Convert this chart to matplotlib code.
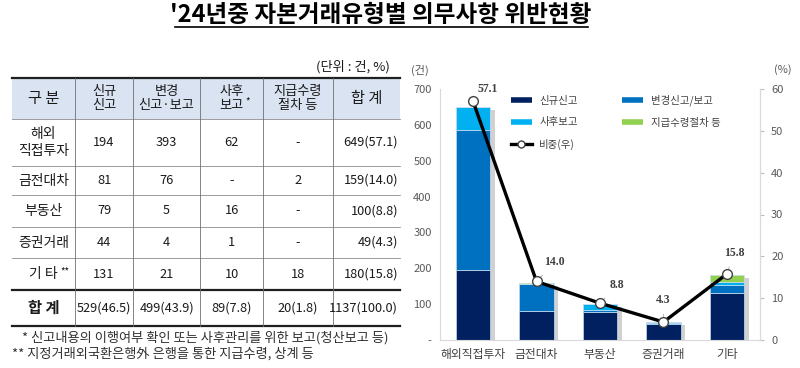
import matplotlib
matplotlib.use('Agg')
import matplotlib.pyplot as plt
import matplotlib.patheffects as pe
from matplotlib.lines import Line2D
from matplotlib.patches import Rectangle
import numpy as np

plt.rcParams['font.family'] = ['Noto Sans CJK KR', 'DejaVu Sans']

# ---------------- data ----------------
title = "'24년중 자본거래유형별 의무사항 위반현황"
categories = ['해외직접투자', '금전대차', '부동산', '증권거래', '기타']
new_report = [194, 81, 79, 44, 131]
change_report = [393, 76, 5, 4, 21]
post_report = [62, 0, 16, 1, 10]
payment = [0, 2, 0, 0, 18]
share = [57.1, 14.0, 8.8, 4.3, 15.8]

series_names = ['신규신고', '변경신고/보고', '사후보고', '지급수령절차 등']
line_name = '비중(우)'
left_ticks = [0, 100, 200, 300, 400, 500, 600, 700]
left_tick_labels = ['-', '100', '200', '300', '400', '500', '600', '700']
right_ticks = [0, 10, 20, 30, 40, 50, 60]

unit_text = '(단위 : 건, %)'
header_lines = [['구 분'], ['신규', '신고'], ['변경', '신고·보고'], ['사후', '보고'],
                ['지급수령', '절차 등'], ['합 계']]
row_labels = [['해외', '직접투자'], ['금전대차'], ['부동산'], ['증권거래'], ['기 타'], ['합 계']]
table_cells = [
    ['194', '393', '62', '-', '649(57.1)'],
    ['81', '76', '-', '2', '159(14.0)'],
    ['79', '5', '16', '-', '100(8.8)'],
    ['44', '4', '1', '-', '49(4.3)'],
    ['131', '21', '10', '18', '180(15.8)'],
    ['529(46.5)', '499(43.9)', '89(7.8)', '20(1.8)', '1137(100.0)'],
]
footnotes = ['* 신고내용의 이행여부 확인 또는 사후관리를 위한 보고(청산보고 등)',
             '** 지정거래외국환은행外 은행을 통한 지급수령, 상계 등']

colors = ['#002060', '#0070c0', '#00b0f0', '#92d050']

# ---------------- figure ----------------
W, H = 800, 368
fig = plt.figure(figsize=(W / 100, H / 100), dpi=100)
cv = fig.add_axes([0, 0, 1, 1])
cv.set_xlim(0, W)
cv.set_ylim(H, 0)
cv.axis('off')

# title
cv.text(381, 15, title, ha='center', va='center', fontsize=17, fontweight='bold', color='black')
cv.plot([175, 588], [27, 27], color='black', lw=1.2)

# ---------------- table ----------------
cols = [12, 75, 133, 200, 263, 333, 400]
rows = [78, 119, 166, 195, 227, 258, 290, 326]
txt = '#1a1a1a'
cv.add_patch(Rectangle((cols[0], rows[0]), cols[-1] - cols[0], rows[1] - rows[0],
                       facecolor='#dae3f1', edgecolor='none'))
for yy in rows:
    if yy in (rows[0], rows[6], rows[7]):
        cv.plot([cols[0], cols[-1]], [yy, yy], color='#202020', lw=1.6)
    else:
        cv.plot([cols[0], cols[-1]], [yy, yy], color='#8c8c8c', lw=0.6)
for xx in cols[1:-1]:
    cv.plot([xx, xx], [rows[0], rows[-1]], color='#707070', lw=0.6)

cv.text(390, 67, unit_text, ha='right', va='center', fontsize=9.5, color=txt)

# header
for j, lines in enumerate(header_lines):
    cx = (cols[j] + cols[j + 1]) / 2
    cy = (rows[0] + rows[1]) / 2
    if len(lines) == 1:
        cv.text(cx, cy, lines[0], ha='center', va='center', fontsize=11, color=txt)
    else:
        cv.text(cx, cy - 7.5, lines[0], ha='center', va='center', fontsize=9.5, color=txt)
        cv.text(cx, cy + 7.5, lines[1], ha='center', va='center', fontsize=9.5, color=txt)
# superscript on 사후보고
cv.text((cols[3] + cols[4]) / 2 + 14, (rows[0] + rows[1]) / 2 + 3, '*', ha='left',
        va='center', fontsize=7, color=txt)

# body
for i, lab in enumerate(row_labels):
    cy = (rows[i + 1] + rows[i + 2]) / 2
    cx = (cols[0] + cols[1]) / 2
    if len(lab) == 2:
        cv.text(cx, cy - 8.5, lab[0], ha='center', va='center', fontsize=10, color=txt)
        cv.text(cx, cy + 8.5, lab[1], ha='center', va='center', fontsize=10, color=txt)
    elif i == len(row_labels) - 1:
        cv.text(cx, cy, lab[0], ha='center', va='center', fontsize=11, fontweight='bold', color=txt)
    else:
        cv.text(cx, cy, lab[0], ha='center', va='center', fontsize=10, color=txt)
    if i == 4:
        cv.text(cx + 17, cy - 3, '**', ha='left', va='center', fontsize=7, color=txt)
    for j, val in enumerate(table_cells[i]):
        if j == 4:
            cv.text(cols[6] - 2, cy, val, ha='right', va='center', fontsize=9.2, color=txt)
        else:
            cv.text((cols[j + 1] + cols[j + 2]) / 2, cy, val, ha='center', va='center',
                    fontsize=9.2, color=txt)

# footnotes
cv.text(22, 338, footnotes[0], ha='left', va='center', fontsize=9.5, color='#303030')
cv.text(12, 354, footnotes[1], ha='left', va='center', fontsize=9.5, color='#303030')

# ---------------- chart ----------------
ax = fig.add_axes([440 / W, 1 - 340 / H, 320 / W, (340 - 89) / H])
x = np.arange(len(categories))
width = 0.55
series = [new_report, change_report, post_report, payment]
totals = np.sum(series, axis=0)

ax.bar(x, totals, width, color='#e0e0e0', zorder=1,
       path_effects=[pe.withSimplePatchShadow(offset=(3, -2), shadow_rgbFace='#8c8c8c', alpha=0.4)])
bottom = np.zeros(len(x))
for vals, c in zip(series, colors):
    ax.bar(x, vals, width, bottom=bottom, color=c, edgecolor='#cfe0f2', linewidth=0.5, zorder=2)
    bottom += np.array(vals)

ax.set_xlim(-0.52, 4.52)
ax.set_ylim(0, 700)
ax.set_yticks(left_ticks)
ax.set_yticklabels(left_tick_labels)
ax.set_xticks(x)
ax.set_xticklabels(categories)
ax.tick_params(axis='y', length=0, pad=6, labelsize=8, labelcolor='#595959')
ax.tick_params(axis='x', length=0, pad=6, labelsize=8.5, labelcolor='#404040')
for s in ['top']:
    ax.spines[s].set_visible(False)
for s in ['left', 'right', 'bottom']:
    ax.spines[s].set_color('#d9d9d9')
    ax.spines[s].set_linewidth(0.8)

ax2 = ax.twinx()
ax2.set_ylim(0, 60)
ax2.set_yticks(right_ticks)
ax2.tick_params(axis='y', length=3, color='#bfbfbf', pad=5, labelsize=8, labelcolor='#595959')
for s in ['top', 'left', 'bottom']:
    ax2.spines[s].set_visible(False)
ax2.spines['right'].set_color('#d9d9d9')
ax2.spines['right'].set_linewidth(0.8)

ax2.plot(x, share, color='black', lw=2.4, marker='o', ms=7, mfc='white', mec='#404040',
         mew=1, zorder=5)
offsets = [(15, 12), (18, 19), (17, 18), (0, 22), (7, 21)]
for i, v in enumerate(share):
    kw = {}
    if i > 0:
        kw['arrowprops'] = dict(arrowstyle='-', color='#a6a6a6', lw=0.6, shrinkA=4, shrinkB=4)
    ax2.annotate(f'{v:.1f}', xy=(x[i], v), xytext=offsets[i], textcoords='offset pixels',
                 ha='center', va='center', fontfamily='Liberation Serif', fontweight='bold',
                 fontsize=8.5, color='#404040', **kw)

cv.text(420, 70, '(건)', ha='center', va='center', fontsize=8, color='#595959')
cv.text(783, 70, '(%)', ha='center', va='center', fontsize=8, color='#595959')

handles = [
    Line2D([0], [0], color=colors[0], lw=4, solid_capstyle='butt'),
    Line2D([0], [0], color=colors[2], lw=4, solid_capstyle='butt'),
    Line2D([0], [0], color='black', lw=2.4, marker='o', ms=5, mfc='white', mec='#404040'),
    Line2D([0], [0], color=colors[1], lw=4, solid_capstyle='butt'),
    Line2D([0], [0], color=colors[3], lw=4, solid_capstyle='butt'),
]
labels = [series_names[0], series_names[2], line_name, series_names[1], series_names[3]]
fig.legend(handles, labels, ncol=2, loc='upper left', bbox_to_anchor=(511 / W, 1 - 95 / H),
           bbox_transform=fig.transFigure, frameon=False, fontsize=7.5, labelcolor='#404040',
           handlelength=2.0, handletextpad=0.7, labelspacing=1.1, columnspacing=4.3,
           borderpad=0, borderaxespad=0)

fig.savefig('out.png', dpi=100)
